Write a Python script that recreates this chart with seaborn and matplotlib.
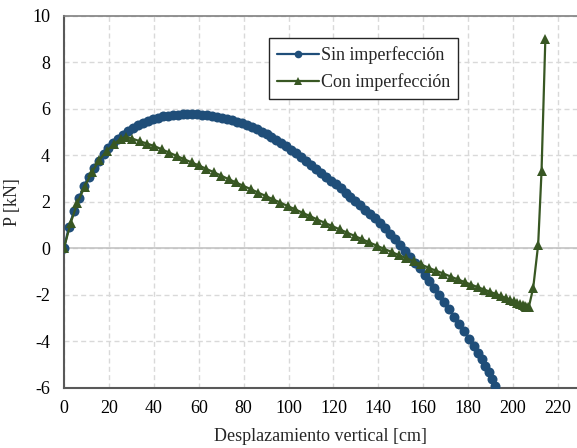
import matplotlib
matplotlib.use("Agg")
import matplotlib.pyplot as plt
import seaborn as sns
import pandas as pd

# Load-displacement curves: perfect vs. imperfect member
sin_x = [0, 2.2, 4.4, 6.6, 8.8, 11.0, 13.2, 15.4, 17.6, 19.8, 22.0, 24.2, 26.4, 28.6,
         30.8, 33.0, 35.2, 37.4, 39.6, 41.8, 44.0, 46.2, 48.4, 50.6, 52.8, 55.0, 57.2,
         59.4, 61.6, 63.8, 66.0, 68.2, 70.4, 72.6, 74.8, 77.0, 79.2, 81.4, 83.6, 85.8,
         88.0, 90.2, 92.4, 94.6, 96.8, 99.0, 101.2, 103.4, 105.6, 107.8, 110.0, 112.2,
         114.4, 116.6, 118.8, 121.0, 123.2, 125.4, 127.6, 129.8, 132.0, 134.2, 136.4,
         138.6, 140.8, 143.0, 145.2, 147.4, 149.6, 151.8, 154.0, 156.2, 158.4, 160.6,
         162.8, 165.0, 167.2, 169.4, 171.6, 173.8, 176.0, 178.2, 180.4, 182.4, 184.3,
         186.1, 187.7, 189.2, 190.6, 191.9]
sin_p = [0, 0.92, 1.58, 2.15, 2.66, 3.08, 3.43, 3.76, 4.05, 4.30, 4.52, 4.71, 4.89, 5.05,
         5.19, 5.30, 5.40, 5.49, 5.56, 5.62, 5.67, 5.70, 5.73, 5.75, 5.76, 5.77, 5.77,
         5.76, 5.75, 5.73, 5.70, 5.66, 5.62, 5.57, 5.51, 5.44, 5.37, 5.29, 5.20, 5.11,
         5.01, 4.93, 4.80, 4.67, 4.53, 4.39, 4.24, 4.08, 3.92, 3.76, 3.59, 3.42,
         3.25, 3.08, 2.91, 2.74, 2.57, 2.39, 2.21, 2.03, 1.85, 1.66, 1.47,
         1.28, 1.07, 0.85, 0.62, 0.38, 0.13, -0.13, -0.38, -0.62, -0.86, -1.14,
         -1.43, -1.72, -2.02, -2.32, -2.63, -2.94, -3.25, -3.57, -3.89, -4.20, -4.50,
         -4.78, -5.06, -5.34, -5.62, -5.92]

con_x = [0, 3.0, 6.0, 9.2, 12.5, 15.8, 19.0, 22.2, 25.2, 27.6,
         30.5, 33.8, 37.0, 40.3, 43.6, 46.9, 50.2, 53.5, 56.8, 60.1, 63.4, 66.7, 70.0,
         73.3, 76.6, 79.9, 83.2, 86.5, 89.8, 93.1, 96.4, 99.7, 103.0, 106.3, 109.6,
         112.9, 116.2, 119.5, 122.8, 126.1, 129.4, 132.7, 136.0, 139.3, 142.6, 145.9,
         149.2, 152.5, 155.8, 159.1, 162.4, 165.7, 169.0, 172.2, 175.4, 178.5, 181.5,
         184.4, 187.2, 189.9, 192.4, 194.7, 196.8, 198.7, 200.4, 201.9, 203.2, 204.3,
         205.2, 205.9, 206.5, 207.0, 209.0, 211.2, 212.7, 214.4]
con_p = [0, 1.10, 1.95, 2.65, 3.28, 3.80, 4.18, 4.48, 4.70, 4.80,
         4.71, 4.60, 4.50, 4.39, 4.25, 4.11, 3.97, 3.83, 3.69, 3.56, 3.41, 3.27, 3.12,
         2.97, 2.83, 2.68, 2.54, 2.39, 2.25, 2.10, 1.96, 1.81, 1.67, 1.52, 1.38,
         1.23, 1.09, 0.95, 0.81, 0.67, 0.53, 0.39, 0.25, 0.11, -0.03, -0.16,
         -0.30, -0.43, -0.57, -0.70, -0.84, -0.97, -1.09, -1.22, -1.34, -1.46, -1.57,
         -1.68, -1.78, -1.88, -1.97, -2.06, -2.14, -2.21, -2.28, -2.34, -2.39, -2.44,
         -2.48, -2.51, -2.54, -2.55, -1.70, 0.15, 3.30, 9.00]

x_ticks = [0, 20, 40, 60, 80, 100, 120, 140, 160, 180, 200, 220]
y_ticks = [-6, -4, -2, 0, 2, 4, 6, 8, 10]

label_sin = "Sin imperfección"
label_con = "Con imperfección"
blue = "#1F4E79"
green = "#385723"
fs = 13

sns.set_theme(style="white")
plt.rcParams["font.family"] = ["Liberation Serif", "DejaVu Serif"]
plt.rcParams["font.size"] = fs

fig = plt.figure(figsize=(5.77, 4.48), dpi=100)
ax = fig.add_axes([64 / 577, 1 - 387.7 / 448, 1 - 64 / 577, (387.7 - 15.7) / 448])

ax.set_xlim(0, 228.5)
ax.set_ylim(-6, 10)
ax.set_xticks(x_ticks)
ax.set_yticks(y_ticks)

# dashed grid and the solid zero line
ax.grid(True, color="#d9d9d9", linewidth=1.0, linestyle=(0, (3.6, 2.4)))
ax.axhline(0, color="#bfbfbf", linewidth=1.1, zorder=1.5)

df_sin = pd.DataFrame({"x": sin_x, "p": sin_p})
df_con = pd.DataFrame({"x": con_x, "p": con_p})

sns.lineplot(data=df_sin, x="x", y="p", ax=ax, sort=False, estimator=None,
             color=blue, linewidth=1.6, marker="o", markersize=7.2,
             markeredgewidth=0, label=label_sin, zorder=3)
sns.lineplot(data=df_con, x="x", y="p", ax=ax, sort=False, estimator=None,
             color=green, linewidth=1.6, marker="^", markersize=7.0,
             markeredgewidth=0, label=label_con, zorder=4)

for side in ["left", "bottom"]:
    ax.spines[side].set_color("#595959")
    ax.spines[side].set_linewidth(1.5)
ax.spines["top"].set_color("#7f7f7f")
ax.spines["top"].set_linewidth(1.2)
ax.spines["right"].set_visible(False)

ax.tick_params(axis="both", length=0, labelsize=fs, colors="black")
ax.tick_params(axis="y", pad=10)
ax.tick_params(axis="x", pad=9)
ax.set_yticklabels([f"{v}" for v in y_ticks])
ax.set_xticklabels([f"{v}" for v in x_ticks])

ax.set_xlabel("Desplazamiento vertical [cm]", fontsize=fs, labelpad=8)
ax.set_ylabel("P [kN]", fontsize=fs, labelpad=8)

leg = ax.legend(loc="upper left", bbox_to_anchor=(0.40, 0.94), frameon=True,
                fancybox=False, framealpha=1, edgecolor="#262626",
                fontsize=fs, handlelength=2.3, handletextpad=0.1,
                borderpad=0.45, labelspacing=0.5, borderaxespad=0)
leg.get_frame().set_linewidth(1.0)
for h in leg.legend_handles:
    h.set_markersize(5.5)

fig.savefig("out.png", dpi=100)
